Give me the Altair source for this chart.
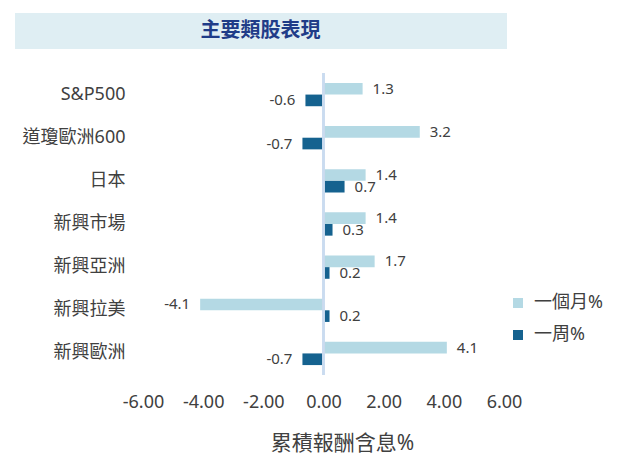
import altair as alt
import pandas as pd

categories = ["S&P500", "道瓊歐洲600", "日本", "新興市場", "新興亞洲", "新興拉美", "新興歐洲"]
month_vals = [1.3, 3.2, 1.4, 1.4, 1.7, -4.1, 4.1]
week_vals = [-0.6, -0.7, 0.7, 0.3, 0.2, 0.2, -0.7]
series = ["一個月%", "一周%"]
x_ticks = [-6, -4, -2, 0, 2, 4, 6]
chart_title = "主要類股表現"
x_title = "累積報酬含息%"

rows = []
for c, m, w in zip(categories, month_vals, week_vals):
    rows.append({"cat": c, "series": series[0], "value": m, "lbl": f"{m:.1f}"})
    rows.append({"cat": c, "series": series[1], "value": w, "lbl": f"{w:.1f}"})
df = pd.DataFrame(rows)

FONT = "Noto Sans, Noto Sans CJK TC"
TXT = "#404040"
W, H = 361, 302

y_enc = alt.Y("cat:N", sort=categories,
              scale=alt.Scale(paddingInner=0.46, paddingOuter=0.23),
              axis=alt.Axis(title=None, domain=False, ticks=False, labelFontSize=18,
                            labelColor=TXT, labelPadding=18, labelFont=FONT))
yoff = alt.YOffset("series:N", sort=series, scale=alt.Scale(paddingInner=0, paddingOuter=0))
x_enc = alt.X("value:Q", scale=alt.Scale(domain=[-6, 6], nice=False),
              axis=alt.Axis(values=x_ticks, grid=False, domain=False, ticks=False,
                            tickSize=0, labelFontSize=18, labelColor=TXT, labelPadding=18,
                            labelOverlap=False, labelFlush=False, labelBound=False,
                            labelExpr="replace(format(datum.value, '.2f'), '\u2212', '-')",
                            labelFont=FONT, title=x_title, titleFontSize=21,
                            titleFontWeight="normal", titleColor=TXT, titleFont=FONT,
                            titleX=199, titleY=57))
color = alt.Color("series:N", sort=series,
                  scale=alt.Scale(domain=series, range=["#B4D9E4", "#15628F"]),
                  legend=alt.Legend(title=None, orient="none", legendX=366, legendY=221,
                                    symbolType="square", symbolSize=100, labelFontSize=18,
                                    labelColor=TXT, labelFont=FONT, rowPadding=14,
                                    symbolStrokeWidth=0, labelOffset=7))

bars = alt.Chart(df).mark_bar().encode(y=y_enc, yOffset=yoff, x=x_enc, color=color)

rule = alt.Chart(df).mark_rule(color="#C9DCF0", strokeWidth=1.5).encode(x=alt.datum(0))

pos = alt.Chart(df).transform_filter("datum.value >= 0").mark_text(
    align="left", dx=10, baseline="middle", fontSize=15, color=TXT, font=FONT
).encode(y=y_enc, yOffset=yoff, x=x_enc, text="lbl:N")
neg = alt.Chart(df).transform_filter("datum.value < 0").mark_text(
    align="right", dx=-10, baseline="middle", fontSize=15, color=TXT, font=FONT
).encode(y=y_enc, yOffset=yoff, x=x_enc, text="lbl:N")

tdf = pd.DataFrame({"t": [chart_title]})
title_bg = alt.Chart(tdf).mark_rect(color="#DFEEF3").encode(
    x=alt.value(-128), x2=alt.value(364), y=alt.value(-60), y2=alt.value(-24))
title_txt = alt.Chart(tdf).mark_text(fontSize=20, fontWeight="bold", color="#1F3C88",
                                     font="Noto Sans CJK TC", baseline="middle").encode(
    x=alt.value(117.5), y=alt.value(-42), text="t:N")

chart = alt.layer(title_bg, title_txt, bars, rule, pos, neg).properties(
    width=W, height=H, autosize="none",
    padding={"left": 135, "top": 65, "right": 117, "bottom": 80},
).configure_view(stroke=None)

chart.save("out.html", embed_options={"renderer": "svg", "actions": False})
